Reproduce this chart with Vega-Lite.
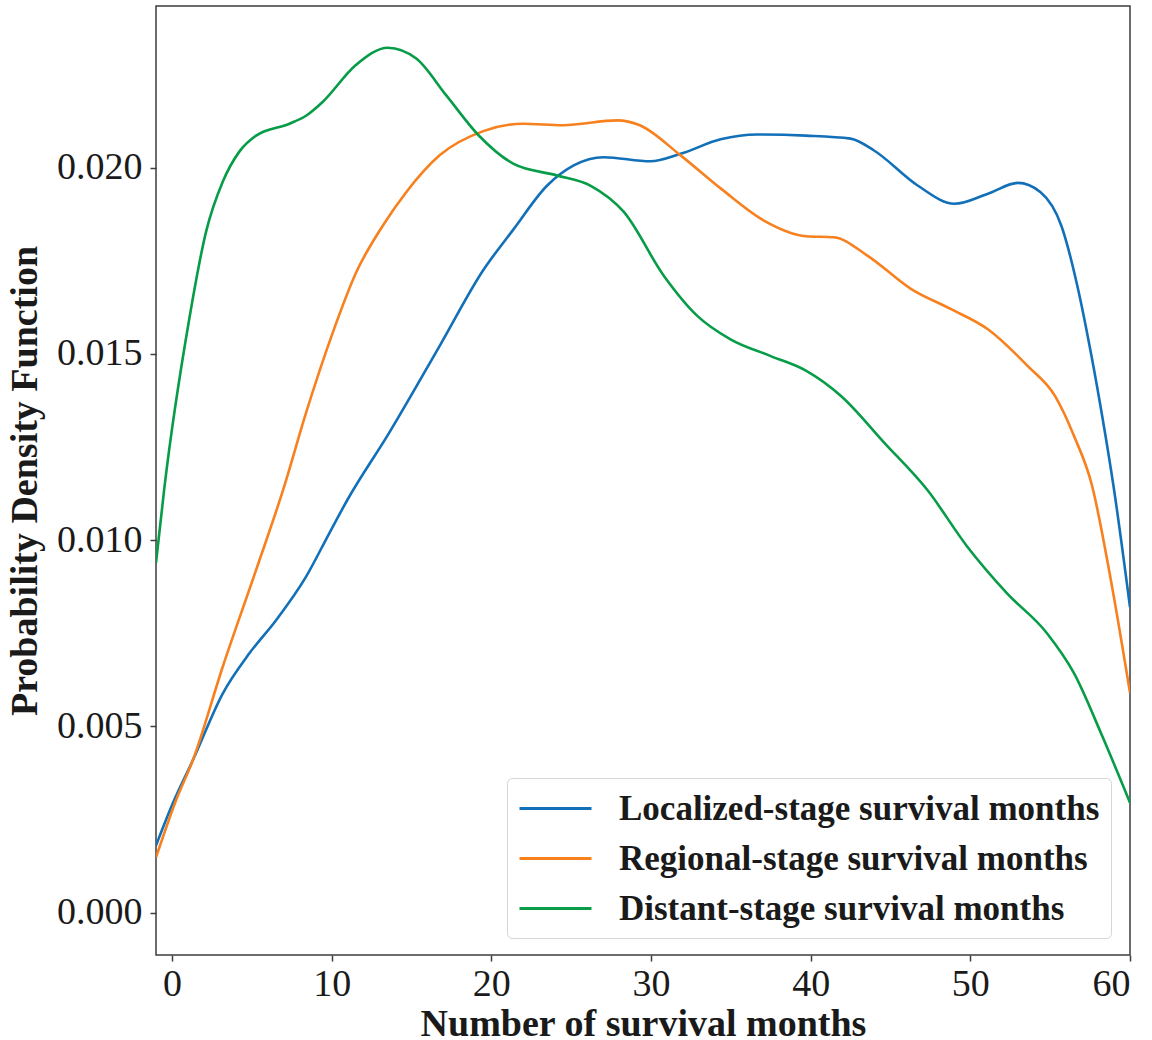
{
  "$schema": "https://vega.github.io/schema/vega-lite/v6.json",
  "width": 974,
  "height": 949,
  "autosize": {"type": "none"},
  "padding": {"left": 156, "top": 6, "right": 22, "bottom": 85},
  "background": "white",
  "data": {"values": [
    {"stage": "Localized-stage survival months", "month": -1, "density": 0.00180},
    {"stage": "Localized-stage survival months", "month": 0.04, "density": 0.00292},
    {"stage": "Localized-stage survival months", "month": 1.3, "density": 0.00408},
    {"stage": "Localized-stage survival months", "month": 3.18, "density": 0.00588},
    {"stage": "Localized-stage survival months", "month": 4.85, "density": 0.00696},
    {"stage": "Localized-stage survival months", "month": 6.52, "density": 0.00785},
    {"stage": "Localized-stage survival months", "month": 8.4, "density": 0.00902},
    {"stage": "Localized-stage survival months", "month": 9.86, "density": 0.01019},
    {"stage": "Localized-stage survival months", "month": 11.0, "density": 0.01109},
    {"stage": "Localized-stage survival months", "month": 13.6, "density": 0.01288},
    {"stage": "Localized-stage survival months", "month": 16.76, "density": 0.01521},
    {"stage": "Localized-stage survival months", "month": 19.5, "density": 0.01725},
    {"stage": "Localized-stage survival months", "month": 21.4, "density": 0.01835},
    {"stage": "Localized-stage survival months", "month": 23.5, "density": 0.01952},
    {"stage": "Localized-stage survival months", "month": 25.16, "density": 0.02006},
    {"stage": "Localized-stage survival months", "month": 27.04, "density": 0.02028},
    {"stage": "Localized-stage survival months", "month": 29.97, "density": 0.02017},
    {"stage": "Localized-stage survival months", "month": 31.85, "density": 0.02037},
    {"stage": "Localized-stage survival months", "month": 34.36, "density": 0.02076},
    {"stage": "Localized-stage survival months", "month": 36.66, "density": 0.02089},
    {"stage": "Localized-stage survival months", "month": 39.7, "density": 0.02086},
    {"stage": "Localized-stage survival months", "month": 42.5, "density": 0.02078},
    {"stage": "Localized-stage survival months", "month": 43.97, "density": 0.02046},
    {"stage": "Localized-stage survival months", "month": 46.7, "density": 0.01952},
    {"stage": "Localized-stage survival months", "month": 49.0, "density": 0.01903},
    {"stage": "Localized-stage survival months", "month": 51.1, "density": 0.01930},
    {"stage": "Localized-stage survival months", "month": 52.98, "density": 0.01959},
    {"stage": "Localized-stage survival months", "month": 54.4, "density": 0.01934},
    {"stage": "Localized-stage survival months", "month": 55.7, "density": 0.01844},
    {"stage": "Localized-stage survival months", "month": 56.7, "density": 0.01683},
    {"stage": "Localized-stage survival months", "month": 57.55, "density": 0.01503},
    {"stage": "Localized-stage survival months", "month": 58.4, "density": 0.01297},
    {"stage": "Localized-stage survival months", "month": 58.95, "density": 0.01150},
    {"stage": "Localized-stage survival months", "month": 60, "density": 0.00820},
    {"stage": "Regional-stage survival months", "month": -1, "density": 0.00148},
    {"stage": "Regional-stage survival months", "month": 0.25, "density": 0.00301},
    {"stage": "Regional-stage survival months", "month": 1.3, "density": 0.00408},
    {"stage": "Regional-stage survival months", "month": 3.18, "density": 0.00660},
    {"stage": "Regional-stage survival months", "month": 5.27, "density": 0.00920},
    {"stage": "Regional-stage survival months", "month": 7.0, "density": 0.01140},
    {"stage": "Regional-stage survival months", "month": 8.4, "density": 0.01342},
    {"stage": "Regional-stage survival months", "month": 10.07, "density": 0.01557},
    {"stage": "Regional-stage survival months", "month": 11.54, "density": 0.01719},
    {"stage": "Regional-stage survival months", "month": 13.2, "density": 0.01844},
    {"stage": "Regional-stage survival months", "month": 14.67, "density": 0.01934},
    {"stage": "Regional-stage survival months", "month": 16.76, "density": 0.02033},
    {"stage": "Regional-stage survival months", "month": 19.5, "density": 0.02098},
    {"stage": "Regional-stage survival months", "month": 22.0, "density": 0.02118},
    {"stage": "Regional-stage survival months", "month": 24.5, "density": 0.02114},
    {"stage": "Regional-stage survival months", "month": 27.9, "density": 0.02127},
    {"stage": "Regional-stage survival months", "month": 29.3, "density": 0.02114},
    {"stage": "Regional-stage survival months", "month": 31.85, "density": 0.02033},
    {"stage": "Regional-stage survival months", "month": 34.4, "density": 0.01943},
    {"stage": "Regional-stage survival months", "month": 37.07, "density": 0.01858},
    {"stage": "Regional-stage survival months", "month": 39.7, "density": 0.01816},
    {"stage": "Regional-stage survival months", "month": 41.46, "density": 0.01813},
    {"stage": "Regional-stage survival months", "month": 43.55, "density": 0.01764},
    {"stage": "Regional-stage survival months", "month": 46.3, "density": 0.01674},
    {"stage": "Regional-stage survival months", "month": 48.8, "density": 0.01620},
    {"stage": "Regional-stage survival months", "month": 51.1, "density": 0.01566},
    {"stage": "Regional-stage survival months", "month": 53.6, "density": 0.01467},
    {"stage": "Regional-stage survival months", "month": 55.3, "density": 0.01387},
    {"stage": "Regional-stage survival months", "month": 56.5, "density": 0.01279},
    {"stage": "Regional-stage survival months", "month": 57.6, "density": 0.01150},
    {"stage": "Regional-stage survival months", "month": 58.8, "density": 0.00893},
    {"stage": "Regional-stage survival months", "month": 60, "density": 0.00590},
    {"stage": "Distant-stage survival months", "month": -1, "density": 0.00939},
    {"stage": "Distant-stage survival months", "month": -0.48, "density": 0.01139},
    {"stage": "Distant-stage survival months", "month": 1.08, "density": 0.01593},
    {"stage": "Distant-stage survival months", "month": 2.13, "density": 0.01827},
    {"stage": "Distant-stage survival months", "month": 3.18, "density": 0.01962},
    {"stage": "Distant-stage survival months", "month": 4.22, "density": 0.02043},
    {"stage": "Distant-stage survival months", "month": 5.27, "density": 0.02086},
    {"stage": "Distant-stage survival months", "month": 7.36, "density": 0.02118},
    {"stage": "Distant-stage survival months", "month": 8.42, "density": 0.02140},
    {"stage": "Distant-stage survival months", "month": 9.45, "density": 0.02177},
    {"stage": "Distant-stage survival months", "month": 11.5, "density": 0.02275},
    {"stage": "Distant-stage survival months", "month": 13.52, "density": 0.02322},
    {"stage": "Distant-stage survival months", "month": 15.3, "density": 0.02293},
    {"stage": "Distant-stage survival months", "month": 17.18, "density": 0.02194},
    {"stage": "Distant-stage survival months", "month": 19.2, "density": 0.02087},
    {"stage": "Distant-stage survival months", "month": 21.4, "density": 0.02010},
    {"stage": "Distant-stage survival months", "month": 24.12, "density": 0.01979},
    {"stage": "Distant-stage survival months", "month": 26.2, "density": 0.01952},
    {"stage": "Distant-stage survival months", "month": 28.3, "density": 0.01881},
    {"stage": "Distant-stage survival months", "month": 30.8, "density": 0.01710},
    {"stage": "Distant-stage survival months", "month": 32.9, "density": 0.01602},
    {"stage": "Distant-stage survival months", "month": 34.98, "density": 0.01539},
    {"stage": "Distant-stage survival months", "month": 37.5, "density": 0.01494},
    {"stage": "Distant-stage survival months", "month": 39.7, "density": 0.01455},
    {"stage": "Distant-stage survival months", "month": 41.9, "density": 0.01387},
    {"stage": "Distant-stage survival months", "month": 44.6, "density": 0.01262},
    {"stage": "Distant-stage survival months", "month": 47.3, "density": 0.01135},
    {"stage": "Distant-stage survival months", "month": 49.8, "density": 0.00983},
    {"stage": "Distant-stage survival months", "month": 52.3, "density": 0.00857},
    {"stage": "Distant-stage survival months", "month": 54.8, "density": 0.00750},
    {"stage": "Distant-stage survival months", "month": 56.5, "density": 0.00642},
    {"stage": "Distant-stage survival months", "month": 58.2, "density": 0.00480},
    {"stage": "Distant-stage survival months", "month": 60, "density": 0.00295}
  ]},
  "mark": {"type": "line", "interpolate": "monotone", "strokeWidth": 2.6, "clip": true},
  "encoding": {
    "x": {
      "field": "month", "type": "quantitative",
      "scale": {"domain": [-1, 60], "nice": false, "zero": false},
      "axis": {"values": [0, 10, 20, 30, 40, 50, 60], "title": "Number of survival months", "labelPadding": 4, "titlePadding": 2}
    },
    "y": {
      "field": "density", "type": "quantitative",
      "scale": {"domain": [-0.00114, 0.02434], "nice": false, "zero": false},
      "axis": {"values": [0, 0.005, 0.01, 0.015, 0.02], "format": ".3f", "title": "Probability Density Function", "labelPadding": 8, "titlePadding": 12}
    },
    "color": {
      "field": "stage", "type": "nominal",
      "scale": {
        "domain": ["Localized-stage survival months", "Regional-stage survival months", "Distant-stage survival months"],
        "range": ["#1170b8", "#f7801f", "#079c47"]
      },
      "legend": {
        "title": null, "orient": "none", "legendX": 351, "legendY": 772,
        "symbolType": "M-1,0H3", "symbolSize": 1296, "symbolStrokeWidth": 3,
        "labelFontSize": 35, "labelFontWeight": "bold", "labelFont": "Liberation Serif", "labelColor": "#1a1a1a",
        "labelOffset": 62, "rowPadding": 12, "padding": 11,
        "fillColor": "rgba(255,255,255,0.85)", "strokeColor": "#d6d6d6", "cornerRadius": 5,
        "labelLimit": 700
      }
    }
  },
  "config": {
    "font": "Liberation Serif",
    "view": {"stroke": "#3d3d3d", "strokeWidth": 1.5},
    "axis": {
      "domain": false, "grid": false,
      "ticks": true, "tickColor": "#3d3d3d", "tickSize": 6, "tickWidth": 1.5,
      "labelFont": "Liberation Serif", "labelFontSize": 38, "labelColor": "#1a1a1a",
      "titleFont": "Liberation Serif", "titleFontSize": 38, "titleFontWeight": "bold", "titleColor": "#1a1a1a"
    }
  }
}
